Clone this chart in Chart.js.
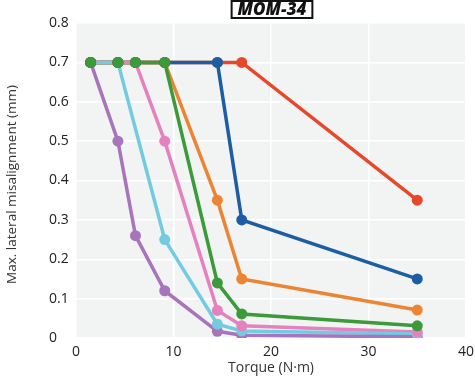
<!DOCTYPE html>
<html><head><meta charset="utf-8">
<script src="https://cdn.jsdelivr.net/npm/chart.js@4/dist/chart.umd.min.js"></script>
<style>html,body{margin:0;padding:0;background:#fff}#wrap{width:475px;height:381px}</style>
</head><body><div id="wrap"><canvas id="c"></canvas></div>
<script>
const torque = [1.5, 4.3, 6.1, 9.1, 14.5, 17, 35];
const purple = [0.7, 0.5, 0.26, 0.12, 0.017, 0.007, 0.003];
const cyan   = [0.7, 0.7, null, 0.25, 0.035, 0.018, 0.01];
const pink   = [0.7, 0.7, 0.7, 0.5, 0.07, 0.031, 0.015];
const green  = [0.7, 0.7, 0.7, 0.7, 0.14, 0.061, 0.031];
const orange = [0.7, 0.7, 0.7, 0.7, 0.35, 0.15, 0.071];
const blue   = [0.7, 0.7, 0.7, 0.7, 0.7, 0.30, 0.15];
const red    = [0.7, 0.7, 0.7, 0.7, 0.7, 0.7, 0.35];
const xTicks = [0, 10, 20, 30, 40];
const yTicks = ['0','0.1','0.2','0.3','0.4','0.5','0.6','0.7','0.8'];
const titleText = 'MOM-34';
const xTitle = 'Torque (N·m)';
const yTitle = 'Max. lateral misalignment (mm)';

const series = [
  {name:'purple', data:purple, color:'#a874bb'},
  {name:'cyan', data:cyan, color:'#72cbe0'},
  {name:'pink', data:pink, color:'#e681c0'},
  {name:'green', data:green, color:'#3b9a3a'},
  {name:'orange', data:orange, color:'#eb8533'},
  {name:'blue', data:blue, color:'#1d5ea3'},
  {name:'red', data:red, color:'#e6482a'}
];
const pts = arr => torque.map((x,i)=>({x:x, y:arr[i]}));
const pointTop = {green:0, blue:1, red:2, orange:3, pink:4, cyan:5, purple:6};
const datasets = [];
series.forEach((s,i)=>{
  datasets.push({label:s.name, data:pts(s.data), borderColor:s.color, backgroundColor:s.color,
    borderWidth:3.5, pointRadius:0, spanGaps:true, order:10+i, fill:false});
});
series.forEach((s)=>{
  datasets.push({label:s.name+'-pts', data:pts(s.data), borderColor:s.color, backgroundColor:s.color,
    showLine:false, pointRadius:5.5, pointBorderWidth:0, order:pointTop[s.name]});
});
const FAM = '"Open Sans", "Noto Sans", sans-serif';

const deco = {
  id:'deco',
  beforeDraw(chart){
    const {ctx, chartArea:a} = chart;
    ctx.save();
    ctx.fillStyle = '#f2f4f4';
    ctx.fillRect(a.left, a.top, a.right-a.left, a.bottom-a.top);
    ctx.restore();
  },
  afterDraw(chart){
    const {ctx, chartArea:a} = chart;
    ctx.save();
    ctx.font = 'italic 800 17px ' + FAM;
    const cx = (a.left + a.right)/2 + 1;
    const w = ctx.measureText(titleText).width;
    const bw = w + 12, bh = 17;
    ctx.fillStyle = '#fff';
    ctx.fillRect(cx-bw/2, 1, bw, bh);
    ctx.strokeStyle = '#111';
    ctx.lineWidth = 2;
    ctx.strokeRect(cx-bw/2, 1, bw, bh);
    ctx.fillStyle = '#111';
    ctx.textAlign = 'center';
    ctx.textBaseline = 'middle';
    ctx.fillText(titleText, cx, 10);
    ctx.font = '13.5px ' + FAM;
    ctx.fillStyle = '#333';
    ctx.translate(12, (a.top + a.bottom)/2 + 4);
    ctx.rotate(-Math.PI/2);
    ctx.fillText(yTitle, 0, 0);
    ctx.restore();
  }
};

new Chart(document.getElementById('c'), {
  type:'line',
  data:{datasets},
  options:{
    responsive:true, maintainAspectRatio:false, animation:false,
    layout:{padding:{left:49, right:0, top:23, bottom:0}},
    plugins:{legend:{display:false}, tooltip:{enabled:false}},
    scales:{
      x:{type:'linear', min:0, max:40,
        afterBuildTicks(s){ s.ticks = xTicks.map(v=>({value:v})); },
        afterFit(s){ s.height = 43; s.paddingRight = 9; s.paddingLeft = 0; },
        grid:{color:'#ffffff', lineWidth:1.5, drawTicks:false},
        border:{display:false},
        ticks:{padding:6, color:'#222', font:{family:FAM, size:14}, maxRotation:0},
        title:{display:true, text:xTitle, color:'#333', padding:{top:0,bottom:5}, font:{family:FAM, size:14}}
      },
      y:{type:'linear', min:0, max:0.8,
        afterBuildTicks(s){ s.ticks = yTicks.map((t,i)=>({value:i*0.1})); },
        afterFit(s){ s.width = 27; s.paddingTop = 0; s.paddingBottom = 0; },
        grid:{color:'#ffffff', lineWidth:1.5, drawTicks:false},
        border:{display:false},
        ticks:{crossAlign:'far', padding:4, color:'#222', font:{family:FAM, size:14},
          callback:(v,i)=>yTicks[i]}
      }
    }
  },
  plugins:[deco]
});
</script></body></html>
